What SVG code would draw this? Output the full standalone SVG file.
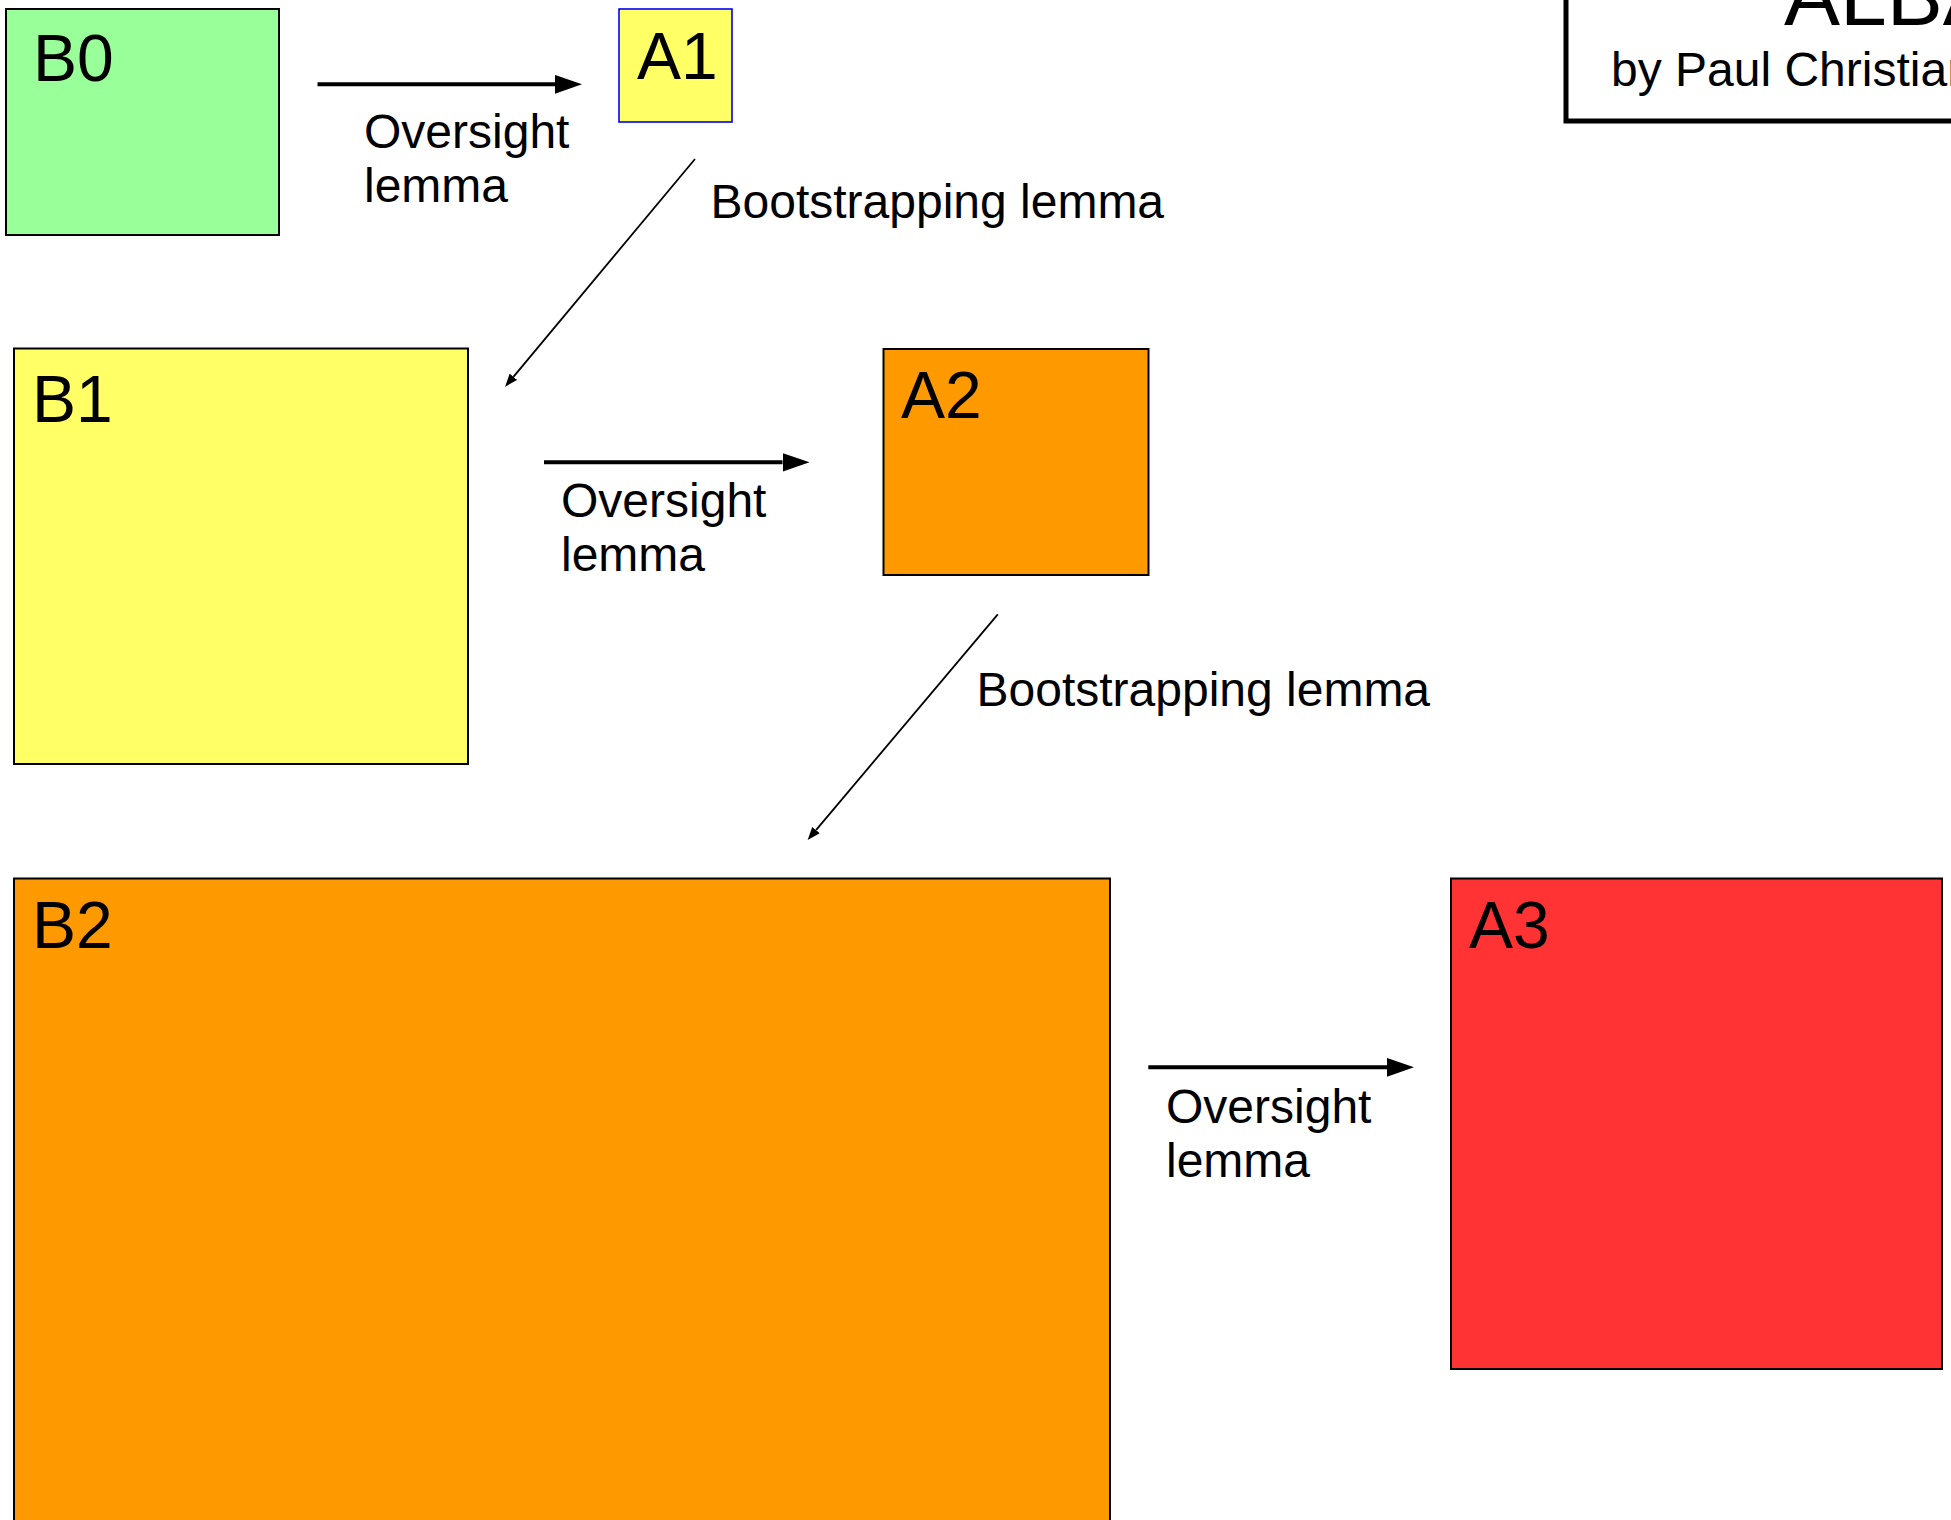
<svg xmlns="http://www.w3.org/2000/svg" width="1951" height="1520" viewBox="0 0 1951 1520">
  <style>
    .box { stroke: #000; stroke-width: 2; }
    .lbl { font-family: "Liberation Sans", Arial, sans-serif; font-size: 66px; fill: #000; }
    .txt { font-family: "Liberation Sans", Arial, sans-serif; font-size: 48px; fill: #000; }
    .thick { stroke: #000; stroke-width: 4; fill: none; }
    .thin { stroke: #000; stroke-width: 1.8; fill: none; }
  </style>
  <defs>
    <marker id="bigHead" markerUnits="userSpaceOnUse" markerWidth="27" markerHeight="19" viewBox="0 0 26 18" refX="0" refY="9" orient="auto">
      <path d="M0,0 L26,9 L0,18 z" fill="#000"/>
    </marker>
    <marker id="smallHead" markerUnits="userSpaceOnUse" markerWidth="13" markerHeight="10" viewBox="0 0 12 9" refX="0" refY="4.5" orient="auto">
      <path d="M0,0 L12,4.5 L0,9 z" fill="#000"/>
    </marker>
  </defs>
  <rect width="1951" height="1520" fill="#fff"/>

  <g id="title">
    <rect x="1566" y="-50" width="500" height="171" fill="#fff" stroke="#000" stroke-width="5"/>
    <text class="txt" x="1784" y="25" style="font-size:84px">ALBA</text>
    <text class="txt" x="1611" y="86">by Paul Christiano</text>
  </g>

  <g id="B0">
    <rect class="box" x="6" y="9" width="273" height="226" fill="#99FF99"/>
    <text class="lbl" x="33" y="81">B0</text>
  </g>
  <g id="A1">
    <rect x="619" y="9" width="113" height="113" fill="#FFFF66" stroke="#0000FF" stroke-width="1.6"/>
    <text class="lbl" x="637" y="79">A1</text>
  </g>
  <g id="B1">
    <rect class="box" x="14" y="348.5" width="454" height="415.5" fill="#FFFF66"/>
    <text class="lbl" x="32" y="422">B1</text>
  </g>
  <g id="A2">
    <rect class="box" x="883.5" y="349" width="265" height="226" fill="#FF9900"/>
    <text class="lbl" x="901" y="418">A2</text>
  </g>
  <g id="B2">
    <rect class="box" x="14" y="878.5" width="1096" height="700" fill="#FF9900"/>
    <text class="lbl" x="32" y="948">B2</text>
  </g>
  <g id="A3">
    <rect class="box" x="1451" y="878.5" width="491" height="490.5" fill="#FF3333"/>
    <text class="lbl" x="1469" y="948">A3</text>
  </g>

  <g id="connectors">
    <line class="thick" x1="317.5" y1="84.3" x2="555" y2="84.3" marker-end="url(#bigHead)"/>
    <text class="txt" x="364" y="148">Oversight</text>
    <text class="txt" x="364" y="202">lemma</text>

    <line class="thin" x1="695" y1="159" x2="513.4" y2="376.8" marker-end="url(#smallHead)"/>
    <text class="txt" x="710.5" y="218">Bootstrapping lemma</text>

    <line class="thick" x1="544" y1="462.3" x2="782.5" y2="462.3" marker-end="url(#bigHead)"/>
    <text class="txt" x="561" y="517">Oversight</text>
    <text class="txt" x="561" y="571">lemma</text>

    <line class="thin" x1="997.8" y1="614.4" x2="816" y2="830.1" marker-end="url(#smallHead)"/>
    <text class="txt" x="976.5" y="706">Bootstrapping lemma</text>

    <line class="thick" x1="1148.3" y1="1067.3" x2="1387" y2="1067.3" marker-end="url(#bigHead)"/>
    <text class="txt" x="1166" y="1123">Oversight</text>
    <text class="txt" x="1166" y="1177">lemma</text>
  </g>
</svg>
